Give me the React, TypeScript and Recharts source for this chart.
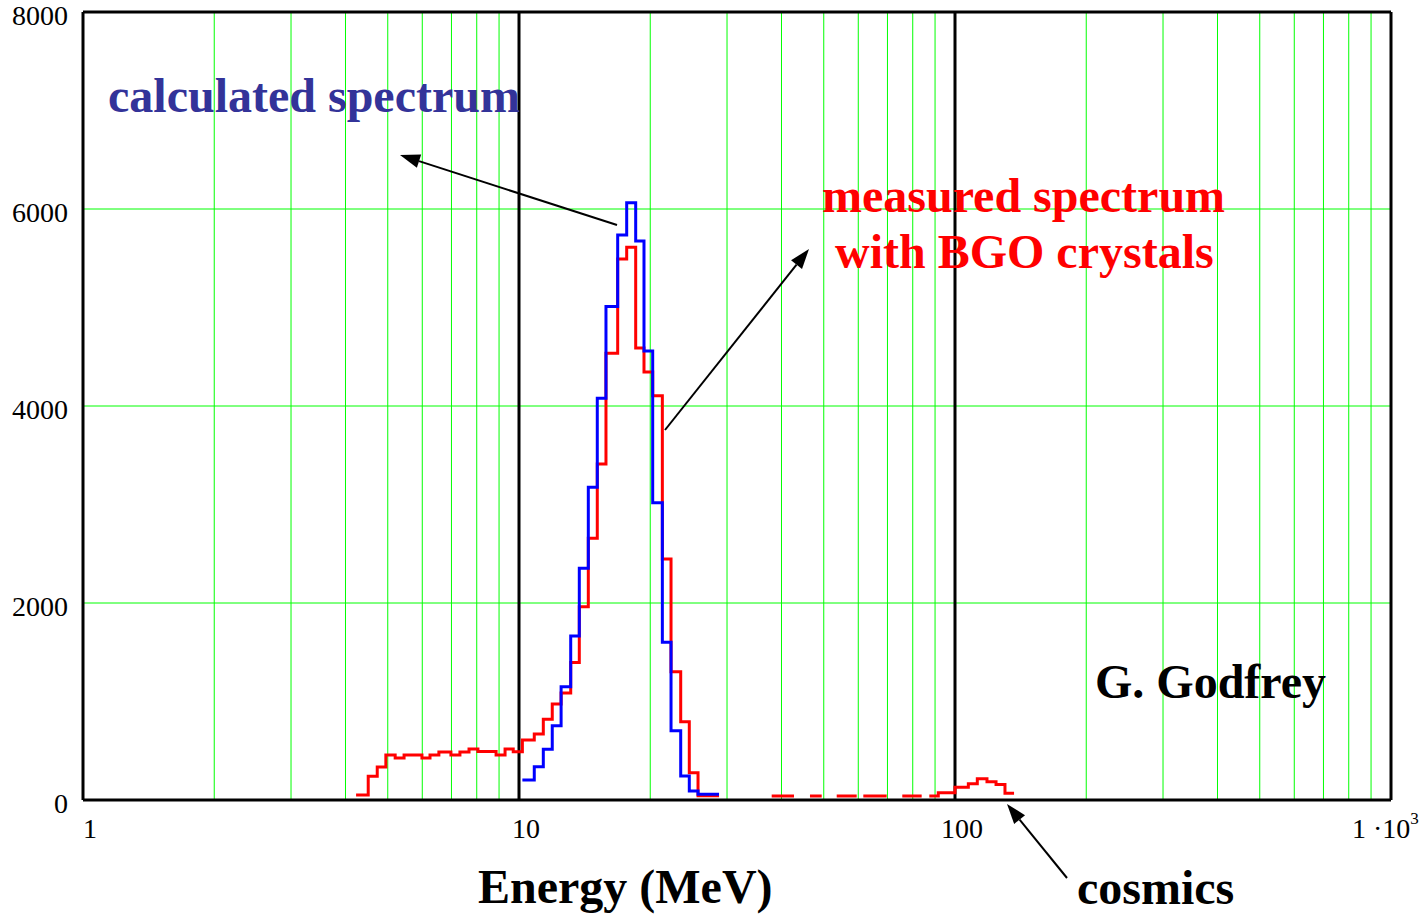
import React from "react";
import {
  LineChart,
  Line,
  XAxis,
  YAxis,
  CartesianGrid,
  ReferenceLine,
} from "recharts";

// measured spectrum (BGO), bin edges in MeV; 0 = empty bin (not drawn)
const measuredEdges = [
  4.23, 4.51, 4.73, 4.95, 5.2, 5.45, 5.71, 5.99, 6.25, 6.55, 6.98, 7.32, 7.68,
  8.05, 8.45, 8.86, 9.29, 9.7, 10.18, 10.84, 11.37, 11.92, 12.49, 13.14, 13.75,
  14.42, 15.12, 15.83, 16.84, 17.66, 18.52, 19.35, 20.26, 21.32, 22.32, 23.49,
  24.58, 25.74, 27.2, 28.76, 37.98, 42.73, 46.49, 49.46, 53.54, 59.5, 61.62,
  69.71, 75.7, 83.86, 87.31, 91.55, 100, 107.3, 112.5, 118.4, 124.2, 130.2,
  136.6,
];
const measuredCounts = [
  50, 240, 335, 457, 426, 457, 457, 426, 457, 487, 457, 487, 518, 492, 492, 457,
  518, 490, 609, 670, 819, 975, 1086, 1395, 1963, 2657, 3411, 4535, 5492, 5611,
  4590, 4345, 4105, 2447, 1303, 795, 277, 44, 44, 0, 40, 0, 40, 0, 40, 0, 40, 0,
  40, 0, 40, 74, 130, 165, 215, 186, 158, 68,
];

// calculated spectrum
const calculatedEdges = [
  10.18, 10.84, 11.37, 11.92, 12.49, 13.14, 13.75, 14.42, 15.12, 15.83, 16.84,
  17.66, 18.52, 19.35, 20.26, 21.32, 22.32, 23.49, 24.58, 25.74, 27.2, 28.76,
];
const calculatedCounts = [
  203, 338, 515, 755, 1150, 1665, 2352, 3175, 4078, 5010, 5736, 6064, 5675,
  4558, 3018, 1601, 704, 244, 91, 58, 58,
];

const xTicks = [1, 10, 100, 1000];
const yTicks = [0, 2000, 4000, 6000, 8000];
const minorX = [
  2, 3, 4, 5, 6, 7, 8, 9, 20, 30, 40, 50, 60, 70, 80, 90, 200, 300, 400, 500,
  600, 700, 800, 900,
];
const decadeLines = [10, 100];

type Pt = { e: number; v: number | null };

// turn histogram bins into points for a stepAfter line, breaking at empty bins
const toSteps = (edges: number[], counts: number[]): Pt[] => {
  const pts: Pt[] = [];
  let open = false;
  counts.forEach((c, i) => {
    if (c > 0) {
      pts.push({ e: edges[i], v: c });
      open = true;
      const next = counts[i + 1];
      if (next === undefined || next <= 0) {
        pts.push({ e: edges[i + 1], v: c });
        pts.push({ e: edges[i + 1], v: null });
        open = false;
      }
    }
  });
  if (open) pts.push({ e: edges[edges.length - 1], v: null });
  return pts;
};

const measured = toSteps(measuredEdges, measuredCounts);
const calculated = toSteps(calculatedEdges, calculatedCounts);

const FONT = "'Liberation Serif', 'Times New Roman', serif";

const XTick = (props: any) => {
  const { x, y, payload } = props;
  if (payload.value === 1000) {
    return (
      <text x={x - 39} y={y + 36} fontFamily={FONT} fontSize={28} fill="#000">
        1 ·10
        <tspan dy={-14} fontSize={17}>
          3
        </tspan>
      </text>
    );
  }
  return (
    <text
      x={x + 7}
      y={y + 36}
      textAnchor="middle"
      fontFamily={FONT}
      fontSize={28}
      fill="#000"
    >
      {payload.value}
    </text>
  );
};

const YTick = (props: any) => {
  const { x, y, payload } = props;
  return (
    <text
      x={x - 13}
      y={y + 13}
      textAnchor="end"
      fontFamily={FONT}
      fontSize={28}
      fill="#000"
    >
      {payload.value}
    </text>
  );
};

const Arrow = ({ x1, y1, x2, y2 }: { x1: number; y1: number; x2: number; y2: number }) => {
  const len = Math.hypot(x2 - x1, y2 - y1);
  const ux = (x2 - x1) / len;
  const uy = (y2 - y1) / len;
  const hl = 20;
  const hw = 7;
  const bx = x2 - ux * hl;
  const by = y2 - uy * hl;
  const head = `${x2},${y2} ${bx - uy * hw},${by + ux * hw} ${bx + uy * hw},${by - ux * hw}`;
  return (
    <g>
      <line x1={x1} y1={y1} x2={bx} y2={by} stroke="#000" strokeWidth={2} />
      <polygon points={head} fill="#000" />
    </g>
  );
};

const App = () => {
  return (
    <div
      style={{
        position: "absolute",
        left: 0,
        top: 0,
        width: 1420,
        height: 916,
        background: "#fff",
        overflow: "hidden",
      }}
    >
      <LineChart
        width={1420}
        height={916}
        margin={{ top: 12, right: 29, bottom: 0, left: 0 }}
      >
        <CartesianGrid
          stroke="#00ff00"
          strokeWidth={1}
          verticalValues={minorX}
          horizontalValues={[2000, 4000, 6000, 8000]}
        />
        <XAxis
          type="number"
          dataKey="e"
          scale="log"
          domain={[1, 1000]}
          ticks={xTicks}
          allowDataOverflow
          axisLine={false}
          tickLine={false}
          tickSize={0}
          tick={<XTick />}
          height={116}
          interval={0}
        />
        <YAxis
          type="number"
          domain={[0, 8000]}
          ticks={yTicks}
          axisLine={false}
          tickLine={false}
          tickSize={0}
          tick={<YTick />}
          width={83}
          interval={0}
        />
        {decadeLines.map((d) => (
          <ReferenceLine key={d} x={d} stroke="#000" strokeWidth={3} />
        ))}
        <ReferenceLine x={1} stroke="#000" strokeWidth={3} />
        <ReferenceLine x={1000} stroke="#000" strokeWidth={3} />
        <ReferenceLine y={8000} stroke="#000" strokeWidth={3} />
        <Line
          data={measured}
          dataKey="v"
          type="stepAfter"
          stroke="#ff0000"
          strokeWidth={3}
          dot={false}
          connectNulls={false}
          isAnimationActive={false}
        />
        <Line
          data={calculated}
          dataKey="v"
          type="stepAfter"
          stroke="#0000ff"
          strokeWidth={3}
          dot={false}
          connectNulls={false}
          isAnimationActive={false}
        />
        <ReferenceLine y={0} stroke="#000" strokeWidth={3} />
      </LineChart>
      <svg
        width={1420}
        height={916}
        style={{ position: "absolute", left: 0, top: 0, pointerEvents: "none" }}
      >
        <g fontFamily={FONT} fontWeight="bold" fontSize={48}>
          <text x={108} y={112} fill="#333399">
            calculated spectrum
          </text>
          <text x={822} y={212} fill="#ff0000">
            measured spectrum
          </text>
          <text x={835} y={268} fill="#ff0000">
            with BGO crystals
          </text>
          <text x={1095} y={698} fill="#000">
            G. Godfrey
          </text>
          <text x={478} y={903} fill="#000">
            Energy (MeV)
          </text>
          <text x={1077} y={904} fill="#000">
            cosmics
          </text>
        </g>
        <Arrow x1={617} y1={225} x2={400} y2={155} />
        <Arrow x1={665} y1={430} x2={809} y2={249} />
        <Arrow x1={1067} y1={878} x2={1007} y2={804} />
      </svg>
    </div>
  );
};

export default App;
